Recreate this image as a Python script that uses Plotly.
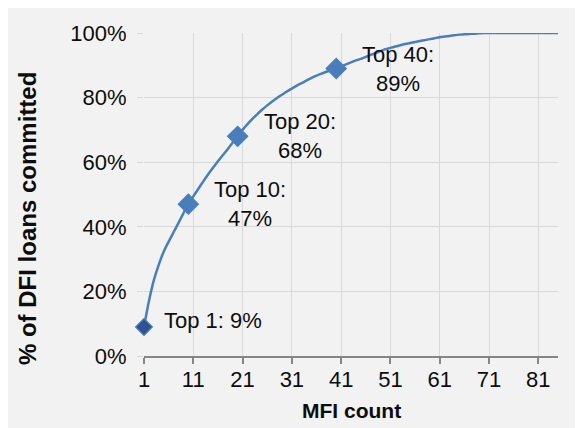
import plotly.graph_objects as go

# ---- data ----
mfi_count = list(range(1, 86))
committed_pct = [
    9.0, 17.0, 23.5, 28.3, 32.3, 35.4, 38.3, 41.2, 44.2, 47.0,
    49.4, 51.7, 54.0, 56.2, 58.3, 60.3, 62.2, 64.1, 66.1, 68.0,
    70.0, 71.8, 73.4, 74.9, 76.3, 77.6, 78.8, 79.9, 80.9, 81.9,
    82.8, 83.7, 84.5, 85.3, 86.1, 86.8, 87.4, 88.0, 88.5, 89.0,
    89.7, 90.3, 90.9, 91.5, 92.0, 92.6, 93.2, 93.8, 94.4, 95.0,
    95.4, 95.8, 96.2, 96.6, 96.9, 97.2, 97.5, 97.8, 98.1, 98.4,
    98.7, 98.9, 99.1, 99.3, 99.5, 99.6, 99.7, 99.8, 99.9, 100.0,
    100.0, 100.0, 100.0, 100.0, 100.0, 100.0, 100.0, 100.0, 100.0, 100.0,
    100.0, 100.0, 100.0, 100.0, 100.0,
]
highlight_counts = [1, 10, 20, 40]
highlight_labels = ["Top 1: 9%", "Top 10:<br>47%", "Top 20:<br>68%", "Top 40:<br>89%"]
x_tick_vals = [1, 11, 21, 31, 41, 51, 61, 71, 81]
y_tick_vals = [0, 20, 40, 60, 80, 100]
y_tick_text = ["0%", "20%", "40%", "60%", "80%", "100%"]

FONT = "Liberation Sans, Arial, sans-serif"
BLUE = "#4a7ebb"
GRID = "#d9d9d9"
TXT = "#0d0d0d"
FS = 22

hl_y = [committed_pct[mfi_count.index(c)] for c in highlight_counts]

fig = go.Figure()
fig.add_trace(go.Scatter(
    x=mfi_count, y=committed_pct, mode="lines",
    line=dict(color=BLUE, width=2.5, shape="spline", smoothing=0.6),
    hoverinfo="skip", showlegend=False, cliponaxis=False,
))
fig.add_trace(go.Scatter(
    x=highlight_counts, y=hl_y, mode="markers",
    marker=dict(symbol="diamond", size=[13, 15.5, 15.5, 15.5], opacity=1,
                color=["#2f5496", "#4a7ebb", "#4a7ebb", "#4a7ebb"],
                line=dict(color="#4a7ebb", width=1.2)),
    showlegend=False, cliponaxis=False,
))

annotations = []
for i, (c, yv, lab) in enumerate(zip(highlight_counts, hl_y, highlight_labels)):
    if i == 0:
        annotations.append(dict(x=c, y=yv, text=lab, showarrow=False,
                                xanchor="left", yanchor="middle", xshift=18, yshift=6,
                                font=dict(family=FONT, size=FS, color=TXT)))
    else:
        annotations.append(dict(x=c, y=yv, text=lab, showarrow=False,
                                xanchor="center", yanchor="middle", xshift=62, yshift=0,
                                align="center",
                                font=dict(family=FONT, size=FS, color=TXT)))

annotations.append(dict(xref="paper", yref="paper", x=-0.2826, y=0.424,
                        text="<b>% of DFI loans committed</b>", textangle=-90,
                        showarrow=False, xanchor="center", yanchor="middle",
                        font=dict(family=FONT, size=24, color=TXT)))
annotations.append(dict(xref="paper", yref="paper", x=0.5, y=-0.1672,
                        text="<b>MFI count</b>", showarrow=False,
                        xanchor="center", yanchor="middle",
                        font=dict(family=FONT, size=21, color=TXT)))

fig.update_layout(
    width=583, height=428,
    margin=dict(l=136, r=33, t=25, b=80, pad=0),
    paper_bgcolor="#f2f2f2", plot_bgcolor="#f2f2f2",
    font=dict(family=FONT, size=FS, color=TXT),
    annotations=annotations,
    xaxis=dict(range=[1, 85], tickvals=x_tick_vals, showgrid=True,
               gridcolor=GRID, gridwidth=1, zeroline=False,
               showline=True, linecolor="#868686", linewidth=1.5,
               ticks="outside", ticklen=6, tickcolor="#868686", tickwidth=1.5,
               ticklabelstandoff=-3,
               tickfont=dict(family=FONT, size=FS, color=TXT)),
    yaxis=dict(range=[0, 100], tickvals=y_tick_vals, ticktext=y_tick_text,
               showgrid=True, gridcolor=GRID, gridwidth=1, zeroline=False,
               showline=False, ticks="outside", ticklen=6, tickcolor=GRID,
               tickwidth=1, ticklabelstandoff=6,
               tickfont=dict(family=FONT, size=FS, color=TXT)),
)

fig.write_html("out.html")
